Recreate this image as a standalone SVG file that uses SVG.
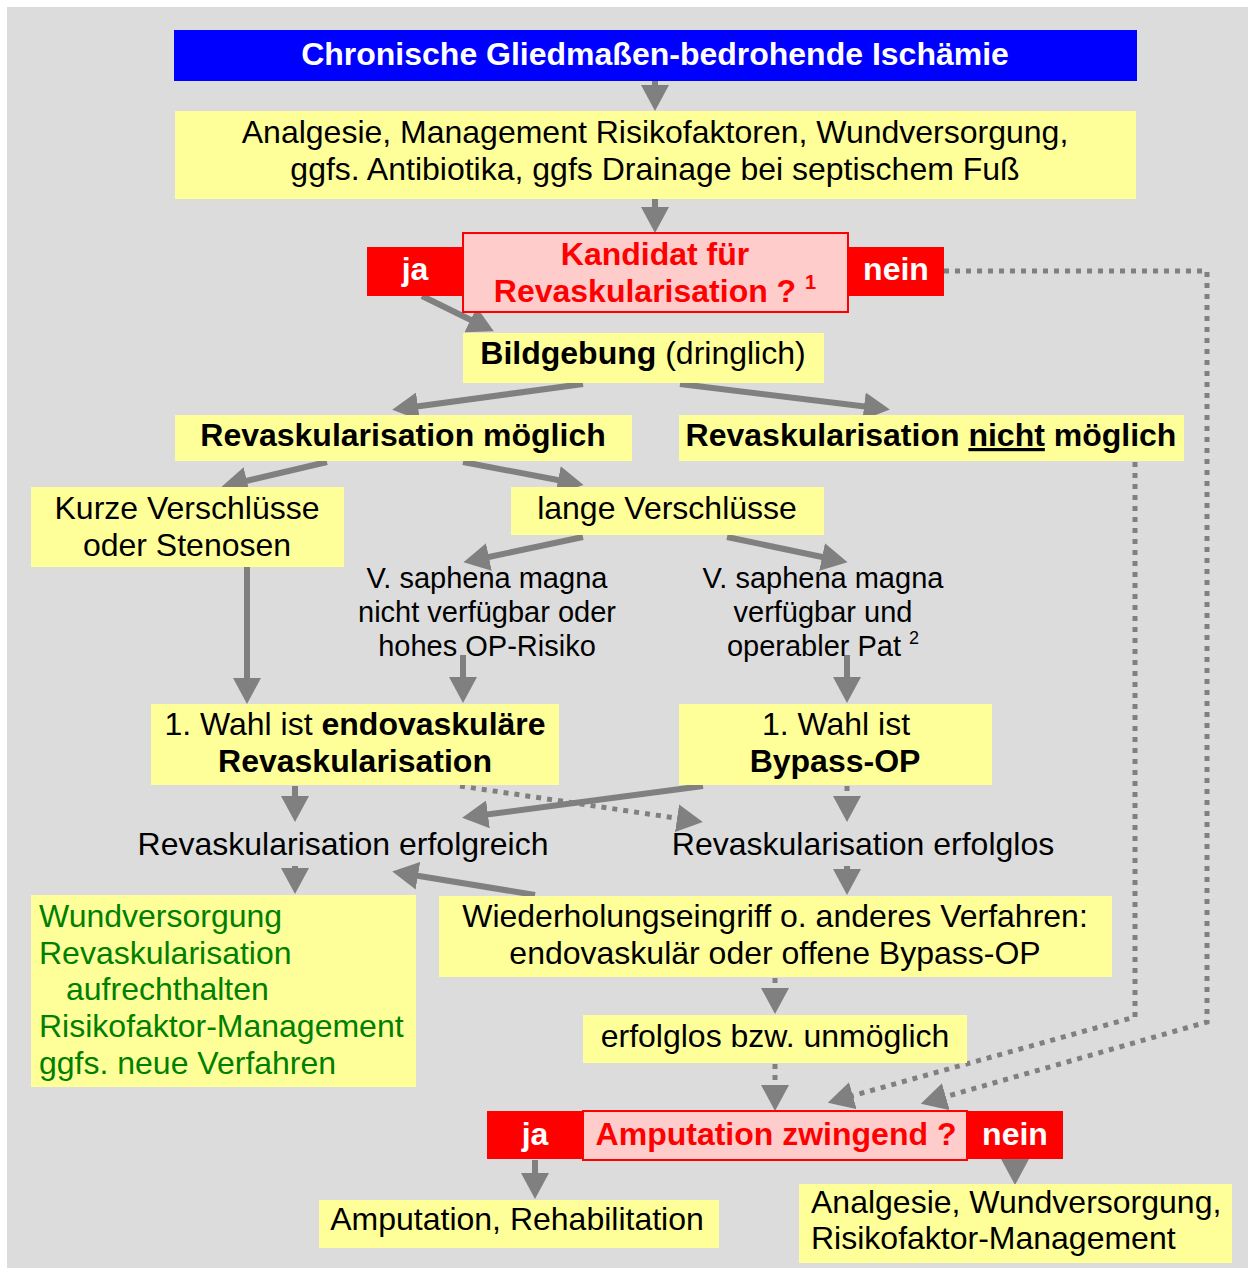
<svg xmlns="http://www.w3.org/2000/svg" width="1254" height="1273" viewBox="0 0 1254 1273">
<style>
text{font-family:"Liberation Sans",Arial,sans-serif;font-size:32px;fill:#000}
.c{text-anchor:middle}
.b{font-weight:bold}
.w{fill:#fff;font-weight:bold}
.r{fill:#ff0000;font-weight:bold}
.g{fill:#008000}
.s{font-size:29px}
.y{fill:#ffff99}
.red{fill:#ff0000}
.pk{fill:#ffcccc;stroke:#ff0000;stroke-width:2}
.a{fill:none;stroke:#808080;stroke-width:6}
.d{fill:none;stroke:#808080;stroke-width:5;stroke-dasharray:5 6}
</style>
<defs>
<marker id="ah" markerUnits="userSpaceOnUse" markerWidth="28" markerHeight="28" refX="5" refY="14" orient="auto" viewBox="0 0 28 28">
<path d="M0,0 L26,14 L0,28 z" fill="#808080"/>
</marker>
</defs>
<rect x="7" y="7" width="1241" height="1261" fill="#dcdcdc"/>

<g id="connectors">
<path class="a" d="M655,81 L655,90" marker-end="url(#ah)"/>
<path class="a" d="M655,199 L655,212" marker-end="url(#ah)"/>
<path class="a" d="M422,296 L475,322" marker-end="url(#ah)"/>
<path class="a" d="M583,384 L413,407" marker-end="url(#ah)"/>
<path class="a" d="M680,384 L869,407" marker-end="url(#ah)"/>
<path class="a" d="M327,462 L242,482" marker-end="url(#ah)"/>
<path class="a" d="M463,462 L563,481" marker-end="url(#ah)"/>
<path class="a" d="M583,537 L484,558" marker-end="url(#ah)"/>
<path class="a" d="M727,537 L827,558" marker-end="url(#ah)"/>
<path class="a" d="M247,567 L247,683" marker-end="url(#ah)"/>
<path class="a" d="M463,655 L463,682" marker-end="url(#ah)"/>
<path class="a" d="M847,655 L847,682" marker-end="url(#ah)"/>
<path class="a" d="M295,786 L295,801" marker-end="url(#ah)"/>
<path class="d" d="M460,786 L682,819" marker-end="url(#ah)"/>
<path class="a" d="M703,786 L483,815" marker-end="url(#ah)"/>
<path class="d" d="M847,786 L847,801" marker-end="url(#ah)"/>
<path class="a" d="M295,866 L295,873" marker-end="url(#ah)"/>
<path class="a" d="M847,866 L847,874" marker-end="url(#ah)"/>
<path class="a" d="M535,895 L413,875" marker-end="url(#ah)"/>
<path class="d" d="M775,978 L775,993" marker-end="url(#ah)"/>
<path class="d" d="M775,1064 L775,1090" marker-end="url(#ah)"/>
<path class="d" d="M1135,462 L1135,1017 L848,1097" marker-end="url(#ah)"/>
<path class="d" d="M944,271 L1207,271 L1207,1022 L941,1098" marker-end="url(#ah)"/>
<path class="a" d="M535,1160 L535,1178" marker-end="url(#ah)"/>
<path class="a" d="M1015,1160 L1015,1164" marker-end="url(#ah)"/>
</g>

<g id="n-title">
<rect x="174" y="30" width="963" height="51" fill="#0000ff"/>
<text class="c w" x="655" y="65">Chronische Gliedmaßen-bedrohende Ischämie</text>
</g>
<g id="n-basis">
<rect class="y" x="175" y="111" width="961" height="88"/>
<text class="c" x="655" y="143">Analgesie, Management Risikofaktoren, Wundversorgung,</text>
<text class="c" x="655" y="180">ggfs. Antibiotika, ggfs Drainage bei septischem Fuß</text>
</g>
<g id="n-kandidat">
<rect class="red" x="367" y="247" width="97" height="49"/>
<rect class="red" x="847" y="247" width="97" height="49"/>
<rect class="pk" x="463" y="233" width="385" height="79"/>
<text class="c w" x="415" y="280">ja</text>
<text class="c w" x="896" y="280">nein</text>
<text class="c r" x="655" y="265">Kandidat für</text>
<text class="c r" x="655" y="302">Revaskularisation ? <tspan font-size="20" dy="-13">1</tspan></text>
</g>
<g id="n-bildgebung">
<rect class="y" x="463" y="333" width="361" height="50"/>
<text class="c" x="643" y="364"><tspan class="b">Bildgebung</tspan> (dringlich)</text>
</g>
<g id="n-moeglich">
<rect class="y" x="175" y="415" width="457" height="46"/>
<text class="c b" x="403" y="446">Revaskularisation möglich</text>
</g>
<g id="n-nichtmoeglich">
<rect class="y" x="679" y="415" width="505" height="46"/>
<text class="c b" x="931" y="446">Revaskularisation <tspan text-decoration="underline">nicht</tspan> möglich</text>
</g>
<g id="n-kurz">
<rect class="y" x="31" y="487" width="313" height="80"/>
<text class="c" x="187" y="519">Kurze Verschlüsse</text>
<text class="c" x="187" y="556">oder Stenosen</text>
</g>
<g id="n-lang">
<rect class="y" x="511" y="487" width="313" height="48"/>
<text class="c" x="667" y="519">lange Verschlüsse</text>
</g>
<g id="n-vsm-nein">
<text class="c s" x="487" y="588">V. saphena magna</text>
<text class="c s" x="487" y="622">nicht verfügbar oder</text>
<text class="c s" x="487" y="656">hohes OP-Risiko</text>
</g>
<g id="n-vsm-ja">
<text class="c s" x="823" y="588">V. saphena magna</text>
<text class="c s" x="823" y="622">verfügbar und</text>
<text class="c s" x="823" y="656">operabler Pat <tspan font-size="18" dy="-12">2</tspan></text>
</g>
<g id="n-endo">
<rect class="y" x="151" y="704" width="408" height="81"/>
<text class="c" x="355" y="735">1. Wahl ist <tspan class="b">endovaskuläre</tspan></text>
<text class="c b" x="355" y="772">Revaskularisation</text>
</g>
<g id="n-bypass">
<rect class="y" x="679" y="704" width="313" height="81"/>
<text class="c" x="836" y="735">1. Wahl ist</text>
<text class="c b" x="835" y="772">Bypass-OP</text>
</g>
<g id="n-erfolgreich">
<text class="c" x="343" y="855">Revaskularisation erfolgreich</text>
</g>
<g id="n-erfolglos">
<text class="c" x="863" y="855">Revaskularisation erfolglos</text>
</g>
<g id="n-nachsorge">
<rect class="y" x="31" y="895" width="385" height="192"/>
<text class="g" x="39" y="927">Wundversorgung</text>
<text class="g" x="39" y="964">Revaskularisation</text>
<text class="g" x="66" y="1000">aufrechthalten</text>
<text class="g" x="39" y="1037">Risikofaktor-Management</text>
<text class="g" x="39" y="1074">ggfs. neue Verfahren</text>
</g>
<g id="n-wiederholung">
<rect class="y" x="439" y="896" width="673" height="81"/>
<text class="c" x="775" y="927">Wiederholungseingriff o. anderes Verfahren:</text>
<text class="c" x="775" y="964">endovaskulär oder offene Bypass-OP</text>
</g>
<g id="n-unmoeglich">
<rect class="y" x="583" y="1015" width="384" height="48"/>
<text class="c" x="775" y="1047">erfolglos bzw. unmöglich</text>
</g>
<g id="n-amputation-frage">
<rect class="red" x="487" y="1111" width="97" height="48"/>
<rect class="red" x="966" y="1111" width="97" height="48"/>
<rect class="pk" x="583" y="1111" width="384" height="49"/>
<text class="c w" x="535" y="1145">ja</text>
<text class="c w" x="1015" y="1145">nein</text>
<text class="c r" x="776" y="1145">Amputation zwingend ?</text>
</g>
<g id="n-amputation">
<rect class="y" x="319" y="1200" width="400" height="48"/>
<text class="c" x="517" y="1230">Amputation, Rehabilitation</text>
</g>
<g id="n-konservativ">
<rect class="y" x="799" y="1184" width="433" height="79"/>
<text x="811" y="1213">Analgesie, Wundversorgung,</text>
<text x="811" y="1249">Risikofaktor-Management</text>
</g>
</svg>
